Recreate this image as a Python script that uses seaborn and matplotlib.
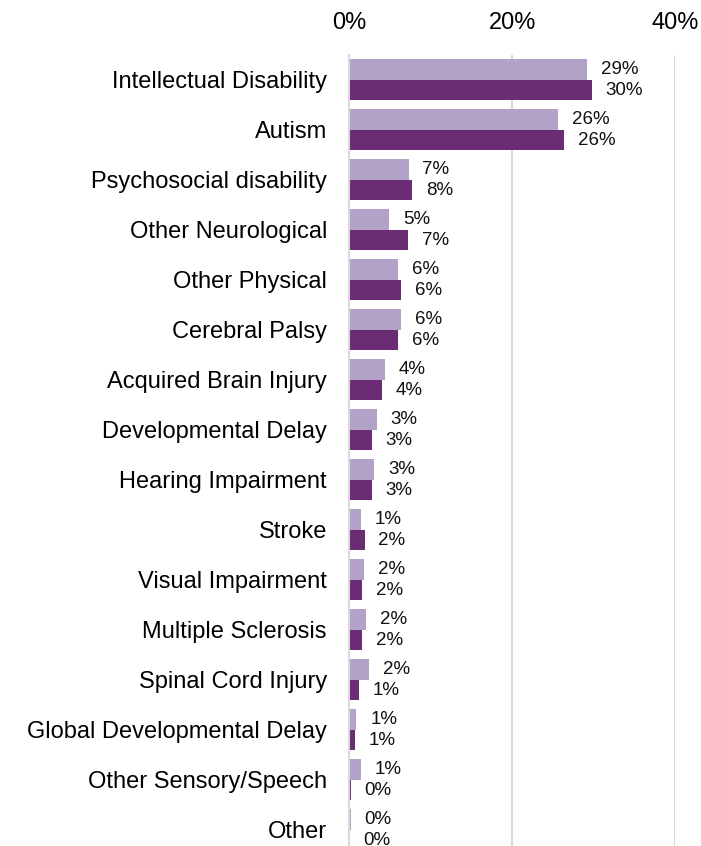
import seaborn as sns
import matplotlib.pyplot as plt
import pandas as pd

categories = ['Intellectual Disability', 'Autism', 'Psychosocial disability',
              'Other Neurological', 'Other Physical', 'Cerebral Palsy',
              'Acquired Brain Injury', 'Developmental Delay', 'Hearing Impairment',
              'Stroke', 'Visual Impairment', 'Multiple Sclerosis',
              'Spinal Cord Injury', 'Global Developmental Delay',
              'Other Sensory/Speech', 'Other']
series_a = [29.2, 25.6, 7.3, 4.9, 6.0, 6.4, 4.4, 3.4, 3.1, 1.4, 1.8, 2.1, 2.4, 0.9, 1.4, 0.2]
series_b = [29.8, 26.4, 7.7, 7.2, 6.4, 6.0, 4.0, 2.8, 2.8, 1.9, 1.6, 1.6, 1.2, 0.7, 0.2, 0.05]
series_names = ['Series A', 'Series B']
x_ticks = [0, 20, 40]

df = pd.DataFrame({
    'category': categories * 2,
    'value': series_a + series_b,
    'series': [series_names[0]] * len(categories) + [series_names[1]] * len(categories),
})

plt.rcParams['font.family'] = ['Liberation Sans', 'DejaVu Sans']

fig = plt.figure(figsize=(7.01, 8.46), dpi=100)
ax = fig.add_axes([0.498, 0.0, 0.465, 0.935])

sns.barplot(data=df, y='category', x='value', hue='series', orient='h',
            palette=['#B3A2C7', '#6B2C75'], width=0.82, saturation=1,
            legend=False, ax=ax)

for cont in ax.containers:
    ax.bar_label(cont, labels=[f'{round(v)}%' for v in cont.datavalues],
                 padding=10, fontsize=13.5, color='#111111')

ax.set_xlim(0, 40)
ax.set_ylim(15.32, -0.5)
ax.set_xticks(x_ticks)
ax.set_xticklabels([f'{t}%' for t in x_ticks])
ax.xaxis.tick_top()
ax.tick_params(axis='x', length=0, pad=15, labelsize=17)
ax.tick_params(axis='y', length=0, pad=16, labelsize=17)
ax.set_xlabel('')
ax.set_ylabel('')
ax.grid(axis='x', color='#D9D9D9', linewidth=1.5)
ax.set_axisbelow(True)
for s in ax.spines.values():
    s.set_visible(False)
ax.spines['left'].set_visible(True)
ax.spines['left'].set_color('#D9D9D9')
ax.spines['left'].set_linewidth(1.5)

plt.savefig('out.png', dpi=100)
